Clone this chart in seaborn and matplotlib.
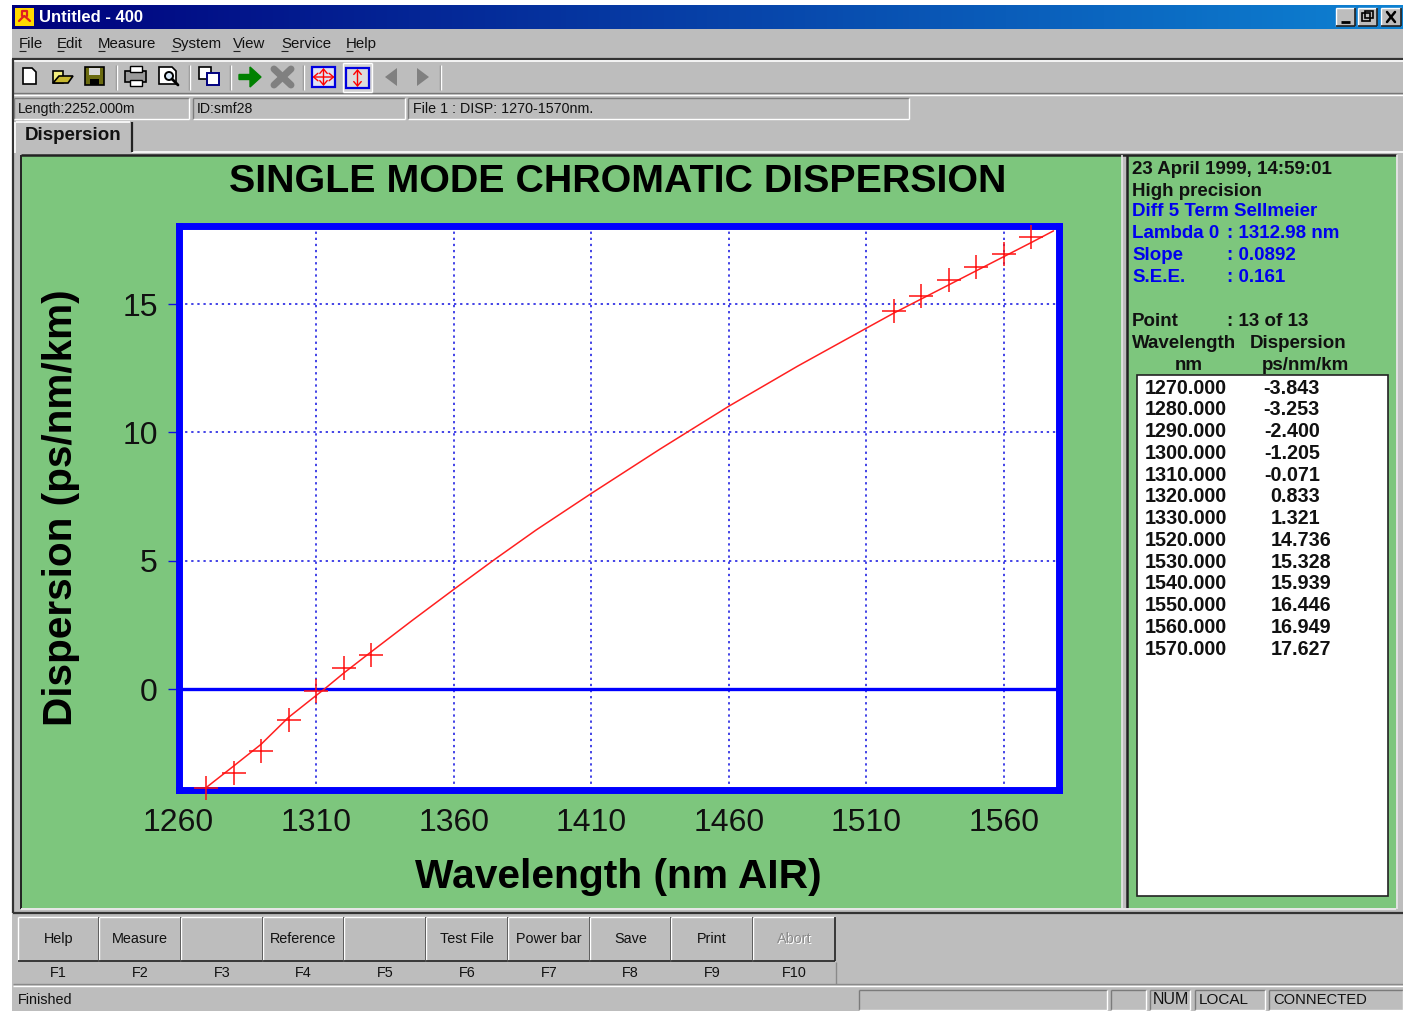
import numpy as np
import pandas as pd
import seaborn as sns
import matplotlib.pyplot as plt
import matplotlib.patches as mpatches

# measured points
wavelength = [1270, 1280, 1290, 1300, 1310, 1320, 1330, 1520, 1530, 1540, 1550, 1560, 1570]
dispersion = [-3.843, -3.253, -2.400, -1.205, -0.071, 0.833, 1.321, 14.736, 15.328, 15.939, 16.446, 16.949, 17.627]

# fitted curve
curve_x = [1270, 1280, 1290, 1300, 1310, 1313, 1320, 1330, 1345, 1360, 1375, 1390, 1410, 1435, 1460,
           1485, 1510, 1520, 1530, 1540, 1550, 1560, 1570, 1578]
curve_y = [-3.84, -3.0, -2.15, -1.1, -0.25, 0.0, 0.62, 1.45, 2.68, 3.88, 5.06, 6.2, 7.62, 9.35, 11.02,
           12.58, 14.06, 14.65, 15.2, 15.75, 16.3, 16.85, 17.4, 17.85]

x_ticks = [1260, 1310, 1360, 1410, 1460, 1510, 1560]
y_ticks = [0, 5, 10, 15]

menu_items = ["File", "Edit", "Measure", "System", "View", "Service", "Help"]
menu_x = [19, 57, 98, 171, 233, 281, 346]
button_labels = ["Help", "Measure", "", "Reference", "", "Test File", "Power bar", "Save", "Print", "Abort"]
key_labels = ["F1", "F2", "F3", "F4", "F5", "F6", "F7", "F8", "F9", "F10"]
button_edges = [18, 99, 181, 263, 344, 426, 508, 590, 671, 753, 835]

GREY = "#bdbdbd"
GREEN = "#7dc67d"
BLUE = "#0000ff"
UI = "Liberation Sans"

sns.set_theme(style="white")
plt.rcParams["font.family"] = [UI, "DejaVu Sans"]

fig = plt.figure(figsize=(14.03, 10.11), dpi=100, facecolor="white")

# whole window chrome is drawn in pixel coordinates
ui = fig.add_axes([0, 0, 1, 1])
ui.set_xlim(0, 1403)
ui.set_ylim(1011, 0)
ui.axis("off")


def box(x0, y0, x1, y1, fc=GREY, ec="none", lw=0, z=1):
    ui.add_patch(mpatches.Rectangle((x0, y0), x1 - x0, y1 - y0, facecolor=fc, edgecolor=ec, linewidth=lw, zorder=z))


def hline(y, x0, x1, c, lw=1, z=2):
    ui.plot([x0, x1], [y, y], color=c, lw=lw, zorder=z, solid_capstyle="butt")


def vline(x, y0, y1, c, lw=1, z=2):
    ui.plot([x, x], [y0, y1], color=c, lw=lw, zorder=z, solid_capstyle="butt")


def raised(x0, y0, x1, y1, z=2):
    hline(y0, x0, x1, "white", z=z)
    vline(x0, y0, y1, "white", z=z)
    hline(y1, x0, x1, "#222222", 1.2, z=z)
    vline(x1, y0, y1, "#222222", 1.2, z=z)


def sunken(x0, y0, x1, y1):
    hline(y0, x0, x1, "#7b7b7b")
    vline(x0, y0, y1, "#7b7b7b")
    hline(y1, x0, x1, "white")
    vline(x1, y0, y1, "white")


def label(x, y, s, size=10.5, color="#111111", weight="normal", ha="left"):
    ui.text(x, y, s, fontsize=size, color=color, fontweight=weight, ha=ha, va="center", zorder=5, family=UI)


box(12, 29, 1403, 1011)

# title bar
grad = np.linspace(0, 1, 256).reshape(1, -1)
cols = np.zeros((1, 256, 3))
cols[..., 0] = (0 + 14 * grad) / 255
cols[..., 1] = (0 + 130 * grad) / 255
cols[..., 2] = (125 + 85 * grad) / 255
ui.imshow(cols, extent=(12, 1403, 29, 5), aspect="auto", zorder=1)
ui.set_xlim(0, 1403)
ui.set_ylim(1011, 0)
box(15, 8, 34, 26, fc="#ffd800", z=2)
ui.plot([19, 24, 24.5, 30], [21, 16, 16, 21], color="#e02020", lw=1.6, zorder=3)
ui.plot([22, 22, 27, 27], [16, 11, 11, 16], color="#e02020", lw=1.6, zorder=3)
label(39, 17, "Untitled - 400", size=12, color="white", weight="bold")
for x0, x1 in [(1336, 1355), (1358, 1377), (1381, 1401)]:
    box(x0, 8, x1, 26, fc=GREY, z=2)
    raised(x0, 8, x1, 26, z=3)
hline(22, 1341, 1350, "black", 2, z=4)
ui.add_patch(mpatches.Rectangle((1362, 13), 8, 8, fill=False, ec="black", lw=1.2, zorder=4))
ui.add_patch(mpatches.Rectangle((1365, 11), 8, 7, fill=False, ec="black", lw=1.2, zorder=4))
ui.plot([1387, 1395], [12, 22], color="black", lw=1.8, zorder=4)
ui.plot([1387, 1395], [22, 12], color="black", lw=1.8, zorder=4)

# menu bar
for name, x in zip(menu_items, menu_x):
    label(x, 44, name, size=10.8)
    hline(51, x, x + 7, "#222222", 0.8, z=5)

# toolbar
hline(59, 12, 1403, "#333333", 1.6)
hline(61, 12, 1403, "white", 1.2)
hline(93, 12, 1403, "#777777", 1)
hline(94.5, 12, 1403, "white", 1)
vline(13, 59, 913, "#333333", 1.6)
for x in [116, 189, 230, 303, 440]:
    vline(x, 65, 90, "#8a8a8a", 1)
    vline(x + 1, 65, 90, "white", 1)
# file icons
ui.add_patch(mpatches.Polygon([(23, 68), (32, 68), (36, 72), (36, 84), (23, 84)], fc="white", ec="black", lw=1.2, zorder=3))
ui.add_patch(mpatches.Polygon([(53, 71), (63, 71), (63, 83), (53, 83)], fc="#f4f080", ec="black", lw=1.2, zorder=3))
ui.add_patch(mpatches.Polygon([(53, 83), (59, 76), (73, 76), (68, 83)], fc="#c8b830", ec="black", lw=1.2, zorder=3))
box(85, 67, 104, 85, fc="#6b6b10", ec="black", lw=1.2, z=3)
box(89, 68, 100, 75, fc="#d8d8d8", z=4)
box(90, 79, 99, 85, fc="black", z=4)
box(125, 71, 146, 82, fc="#9a9a9a", ec="black", lw=1.2, z=3)
box(130, 66, 142, 72, fc="white", ec="black", lw=1, z=3)
box(130, 80, 142, 86, fc="white", ec="black", lw=1, z=3)
ui.add_patch(mpatches.Polygon([(159, 67), (172, 67), (176, 71), (176, 84), (159, 84)], fc="white", ec="black", lw=1.2, zorder=3))
ui.add_patch(mpatches.Circle((169, 76), 4, fc="#d8e8f8", ec="black", lw=1.4, zorder=4))
ui.plot([172, 178], [79, 85], color="black", lw=2, zorder=4)
box(199, 67, 211, 79, fc="white", ec="black", lw=1.2, z=3)
box(207, 73, 219, 85, fc="white", ec="#000080", lw=1.4, z=4)
ui.add_patch(mpatches.FancyArrow(239, 77, 22, 0, width=5, head_width=20, head_length=11,
                                 length_includes_head=True, fc="#008000", ec="#008000", zorder=3))
ui.plot([274, 291], [69, 85], color="#808080", lw=5, zorder=3)
ui.plot([274, 291], [85, 69], color="#808080", lw=5, zorder=3)
box(312, 67, 335, 87, fc="#dfe3f4", ec="#0000e0", lw=1.6, z=3)
box(343, 63, 372, 92, fc="#d4d4d4", z=2)
hline(63, 343, 372, "white", z=3)
vline(343, 63, 92, "white", z=3)
hline(92, 343, 372, "white", z=3)
vline(372, 63, 92, "white", z=3)
box(346, 68, 369, 88, fc="#dcdcdc", ec="#0000e0", lw=1.6, z=3)
arrow_style = "<->,head_length=0.35,head_width=0.3"
for cx, cy, horiz in [(323.5, 77, True), (357.5, 78, False)]:
    if horiz:
        ui.add_patch(mpatches.FancyArrowPatch((cx - 11, cy), (cx + 11, cy), arrowstyle=arrow_style, mutation_scale=9,
                                              shrinkA=0, shrinkB=0, color="#ff0000", lw=1, zorder=4))
    ui.add_patch(mpatches.FancyArrowPatch((cx, cy - 9), (cx, cy + 9), arrowstyle=arrow_style, mutation_scale=9,
                                          shrinkA=0, shrinkB=0, color="#ff0000", lw=1, zorder=4))
ui.add_patch(mpatches.Polygon([(397, 68), (397, 86), (385, 77)], fc="#808080", ec="none", zorder=3))
ui.add_patch(mpatches.Polygon([(417, 68), (417, 86), (429, 77)], fc="#808080", ec="none", zorder=3))

# info boxes
sunken(14, 98, 189, 119)
sunken(193, 98, 405, 119)
sunken(408, 98, 909, 119)
label(18, 109, "Length:2252.000m", size=10.2)
label(197, 109, "ID:smf28", size=10.2)
label(413, 109, "File 1 : DISP: 1270-1570nm.", size=10.3)

# tab and page
hline(152, 132, 1403, "white", 1.2)
hline(122, 16, 130, "white", 1.2)
vline(15, 122, 153, "white", 1.2)
vline(132, 122, 152, "#222222", 1.6)
label(25, 136, "Dispersion", size=13.5, weight="bold")

# green panels
box(21, 156, 1122, 908, fc=GREEN)
box(1128, 156, 1396, 908, fc=GREEN)
hline(155, 21, 1396, "#222222", 1.8)
vline(20.5, 155, 909, "#222222", 1.4)
vline(1121.5, 155, 909, "#e8e8e8", 1.2)
vline(1127, 155, 909, "#222222", 1.8)
vline(1396.5, 155, 909, "#e8e8e8", 1.2)
hline(909, 21, 1396, "#e8e8e8", 1.4)
hline(913, 13, 1403, "#333333", 1.6)

# side panel text
panel_black = [(169, "23 April 1999, 14:59:01"), (191, "High precision")]
panel_blue = [(212, "Diff 5 Term Sellmeier"), (234, "Lambda 0"), (256, "Slope"), (278, "S.E.E.")]
panel_blue_val = [(234, ": 1312.98 nm"), (256, ": 0.0892"), (278, ": 0.161")]
for y, s in panel_black:
    label(1132, y, s, size=13.5, weight="bold")
for y, s in panel_blue:
    label(1132, y, s, size=13.5, color="#0000ee", weight="bold")
for y, s in panel_blue_val:
    label(1227, y, s, size=13.5, color="#0000ee", weight="bold")
label(1132, 321, "Point", size=13.5, weight="bold")
label(1227, 321, ": 13 of 13", size=13.5, weight="bold")
label(1132, 343, "Wavelength", size=13.5, weight="bold")
label(1250, 343, "Dispersion", size=13.5, weight="bold")
label(1189, 365, "nm", size=13.5, weight="bold", ha="center")
label(1305, 365, "ps/nm/km", size=13.5, weight="bold", ha="center")
box(1137, 375, 1388, 896, fc="white", ec="#222222", lw=1.2, z=2)
for i, (w, d) in enumerate(zip(wavelength, dispersion)):
    y = 388 + i * 21.77
    label(1227, y, f"{w:.3f}", size=14.2, weight="bold", ha="right")
    label(1320 if abs(d) < 10 else 1331, y, f"{d:.3f}", size=14.2, weight="bold", ha="right")

# function keys
for i, (name, key) in enumerate(zip(button_labels, key_labels)):
    x0, x1 = button_edges[i], button_edges[i + 1]
    raised(x0, 917, x1, 961)
    mid = (x0 + x1) / 2
    if name == "Abort":
        ui.text(mid + 1, 940, name, fontsize=10.4, color="white", ha="center", va="center", zorder=4)
        label(mid, 939, name, size=10.4, color="#8a8a8a", ha="center")
    else:
        label(mid, 939, name, size=10.4, ha="center")
    label(mid, 973, key, size=10.4, ha="center")
hline(984, 13, 1403, "#8a8a8a", 1)
hline(985.5, 13, 1403, "white", 1)
vline(835.5, 962, 984, "#8a8a8a", 1)
label(18, 1000, "Finished", size=10.4)
for x0, x1 in [(859, 1107), (1111, 1146), (1150, 1190), (1195, 1265), (1269, 1403)]:
    sunken(x0, 990, x1, 1010)
label(1153, 1000, "NUM", size=11.5)
label(1199, 1000, "LOCAL", size=11)
label(1273, 1000, "CONNECTED", size=10.6)

# headline of the plot
ui.text(618, 181.5, "SINGLE MODE CHROMATIC DISPERSION", fontsize=28.4, fontweight="bold", color="black", ha="center", va="center", zorder=5)

# the plot itself
L, R, T, B = 178.5, 1059, 226, 790
ax = fig.add_axes([L / 1403, 1 - B / 1011, (R - L) / 1403, (B - T) / 1011], facecolor="white")
curve = pd.DataFrame({"wavelength": curve_x, "dispersion": curve_y})
points = pd.DataFrame({"wavelength": wavelength, "dispersion": dispersion})
sns.lineplot(data=curve, x="wavelength", y="dispersion", color="#ff2020", lw=1.1, ax=ax, zorder=3)
sns.scatterplot(data=points, x="wavelength", y="dispersion", marker="+", s=300, color="#ff1010",
                linewidth=1.1, ax=ax, zorder=4, clip_on=False)
ax.set_xlim(1260, 1580)
ax.set_ylim(-3.93, 18.04)
ax.set_xticks(x_ticks)
ax.set_yticks(y_ticks)
ax.grid(True, color="#1010e0", ls=(0, (1.5, 2.5)), lw=1.1, zorder=1)
ax.axhline(0, color=BLUE, lw=2.4, zorder=2)
for side in ax.spines.values():
    side.set_color(BLUE)
    side.set_linewidth(5)
ax.tick_params(axis="x", length=0, pad=13, labelsize=23, labelcolor="#111111")
ax.tick_params(axis="y", length=8, width=1, color="#1010e0", left=True, pad=7, labelsize=23, labelcolor="#111111")
ax.set_xlabel("Wavelength (nm AIR)", fontsize=29.3, fontweight="bold", color="black", labelpad=14)
ax.set_ylabel("Dispersion (ps/nm/km)", fontsize=29.2, fontweight="bold", color="black", labelpad=30)

fig.savefig("out.png", dpi=100)
